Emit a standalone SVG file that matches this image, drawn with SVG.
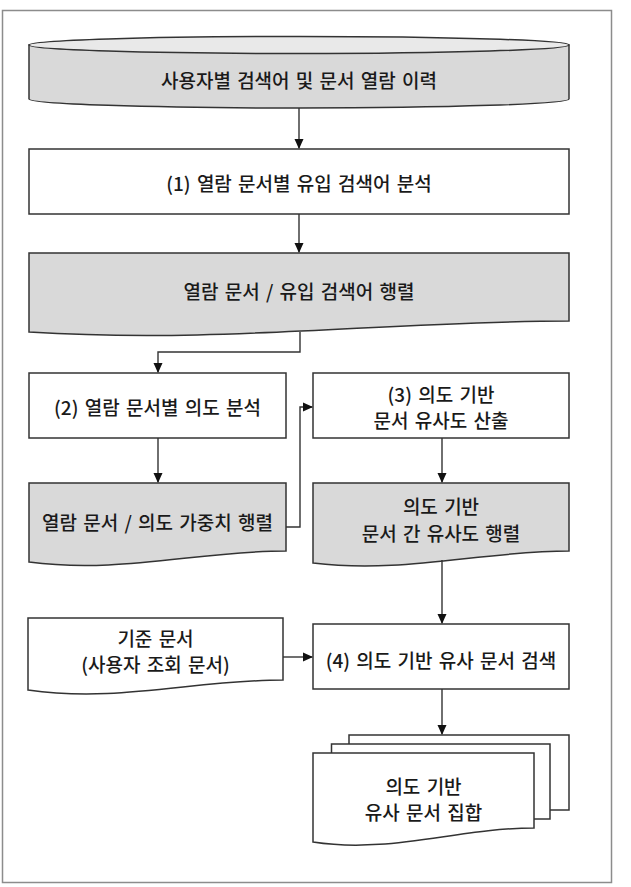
<svg xmlns="http://www.w3.org/2000/svg" width="631" height="887" viewBox="0 0 631 887">
<style>
.frame{fill:#fff;stroke:#8c8c8c;stroke-width:1.5}
.shape{stroke:#333;stroke-width:1.5}
.g{fill:#d9d9d9}
.w{fill:#fff}
.top{fill:#e9e9e9;stroke:#333;stroke-width:1.5}
.t{font-family:"Noto Sans CJK KR","Noto Sans",sans-serif;font-size:19px;font-weight:500;word-spacing:2px;fill:#1a1a1a;text-anchor:middle;dominant-baseline:central}
.c{fill:none;stroke:#333;stroke-width:1.4}
</style>
<defs>
<marker id="ah" markerWidth="10" markerHeight="10" refX="9" refY="5" orient="auto" markerUnits="userSpaceOnUse">
<path d="M0,0.5 L10,5 L0,9.5 Z" fill="#111"/>
</marker>
</defs>
<rect class="frame" x="2.5" y="10.5" width="609" height="872"/>

<g id="history">
<path class="shape g" d="M29,45 V99 A270,9 0 0 0 569,99 V45 Z"/>
<ellipse class="top" cx="299" cy="45" rx="270" ry="8.5"/>
<text class="t" x="299" y="79">사용자별 검색어 및 문서 열람 이력</text>
</g>

<g id="step1">
<rect class="shape w" x="29" y="149" width="540" height="65"/>
<text class="t" x="299" y="182">(1) 열람 문서별 유입 검색어 분석</text>
</g>

<g id="matrix1">
<path class="shape g" d="M29,253 H569 V321 C385,321 223,344 29,332 Z"/>
<text class="t" x="299" y="290">열람 문서 / 유입 검색어 행렬</text>
</g>

<g id="step2">
<rect class="shape w" x="29" y="373" width="257" height="65"/>
<text class="t" x="157.5" y="406">(2) 열람 문서별 의도 분석</text>
</g>

<g id="matrix2">
<path class="shape g" d="M29,483 H286 V551 C198,551 120,574 29,562 Z"/>
<text class="t" x="157.5" y="521">열람 문서 / 의도 가중치 행렬</text>
</g>

<g id="step3">
<rect class="shape w" x="313" y="373" width="256" height="65"/>
<text class="t" x="441" y="393">(3) 의도 기반</text>
<text class="t" x="441" y="419">문서 유사도 산출</text>
</g>

<g id="matrix3">
<path class="shape g" d="M313,483 H569 V551 C482,551 404,574 313,563 Z"/>
<text class="t" x="441" y="505">의도 기반</text>
<text class="t" x="441" y="532">문서 간 유사도 행렬</text>
</g>

<g id="basedoc">
<path class="shape w" d="M28,618 H283 V680 C195,680 118,703 28,690 Z"/>
<text class="t" x="155.5" y="637">기준 문서</text>
<text class="t" x="155.5" y="663">(사용자 조회 문서)</text>
</g>

<g id="step4">
<rect class="shape w" x="313" y="624" width="256" height="65"/>
<text class="t" x="441" y="659">(4) 의도 기반 유사 문서 검색</text>
</g>

<g id="resultset">
<rect class="shape w" x="349" y="735" width="220" height="75"/>
<rect class="shape w" x="331.5" y="744" width="218.5" height="75"/>
<path class="shape w" d="M313,753 H534 V828 C458,828 390,854 313,842 Z"/>
<text class="t" x="423.5" y="785">의도 기반</text>
<text class="t" x="423.5" y="811">유사 문서 집합</text>
</g>

<g id="connectors">
<path class="c" d="M299,108 V148" marker-end="url(#ah)"/>
<path class="c" d="M299,214 V252" marker-end="url(#ah)"/>
<path class="c" d="M300,332 V352 H158 V372" marker-end="url(#ah)"/>
<path class="c" d="M158,438 V482" marker-end="url(#ah)"/>
<path class="c" d="M286,527 H300 V407 H312" marker-end="url(#ah)"/>
<path class="c" d="M442,438 V482" marker-end="url(#ah)"/>
<path class="c" d="M442,560 V623" marker-end="url(#ah)"/>
<path class="c" d="M283,657 H312" marker-end="url(#ah)"/>
<path class="c" d="M442,689 V734" marker-end="url(#ah)"/>
</g>
</svg>
